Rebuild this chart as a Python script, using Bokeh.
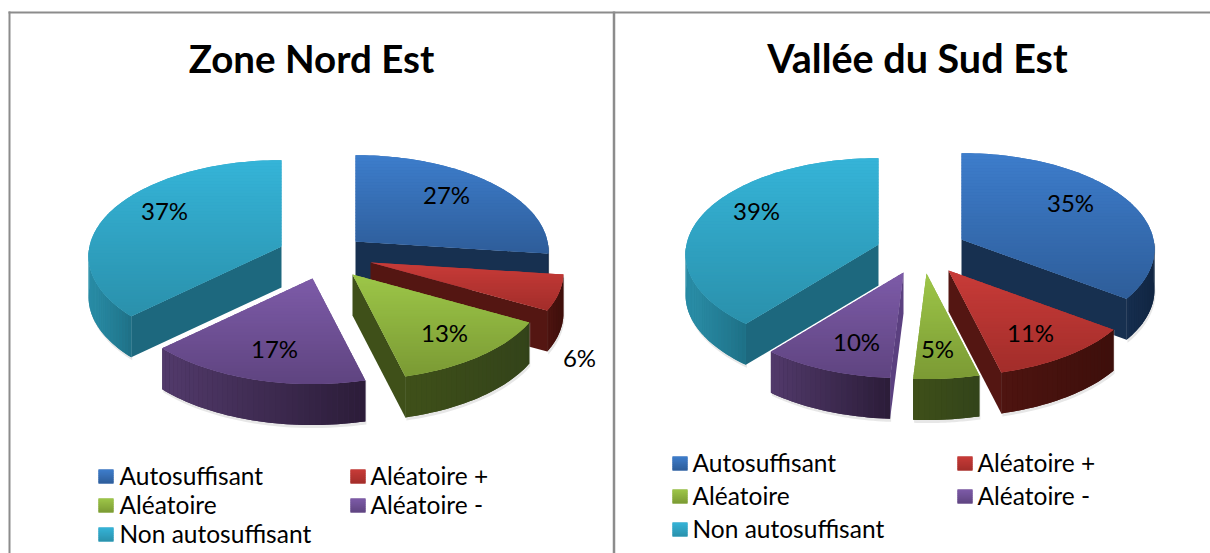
import math
from bokeh.plotting import figure
from bokeh.models import Range1d
from bokeh.core.properties import value
from bokeh.embed import file_html
from bokeh.resources import INLINE

categories = ["Autosuffisant", "Aléatoire +", "Aléatoire", "Aléatoire -", "Non autosuffisant"]
nord_est = [27, 6, 13, 17, 37]
sud_est = [35, 11, 5, 10, 39]
titles = ["Zone Nord Est", "Vallée du Sud Est"]

# styles
top_light = ["#3d7dcc", "#c83b38", "#9dc648", "#7d5ba8", "#35b4d8"]
top_dark = ["#2e5d99", "#a22d2a", "#7b9a34", "#5f4480", "#2a90ab"]
wall = ["#173050", "#541612", "#3f5019", "#5b4080", "#1d687e"]
rim_light = ["#162e4f", "#4e1410", "#3f5019", "#523a6b", "#2b90aa"]
rim_dark = ["#112642", "#3d0f0b", "#33431a", "#2b1c38", "#1e7086"]
DRAW_ORDER = [4, 0, 1, 3, 2]

# layout (reference pixels)
R, RATIO_R, PERSP, DEPTH = 192.0, 95.0, 0.10, 41.0
pies = [
    dict(values=nord_est, c=(330, 255),
         off=[(25, -14), (40, 7), (22, 19), (-18, 23), (-49, -9)],
         lab=[(446, 194), (579, 357), (444, 332), (274, 348), (164, 210)],
         title_x=311, title_size="38.5px", leg_sw=(98, 350), leg_tx=(119, 370), leg_y=(476, 505, 534)),
    dict(values=sud_est, c=(925, 255),
         off=[(36, -16), (23, 15), (1, 18), (-22, 17), (-47, -11)],
         lab=[(1070, 202), (1030, 332), (937, 348), (856, 341), (756, 210)],
         title_x=917, title_size="39.5px", leg_sw=(672, 957), leg_tx=(692, 977), leg_y=(463, 496, 529)),
]


def hex2rgb(h):
    return tuple(int(h[i:i + 2], 16) for i in (1, 3, 5))


def mix(a, b, t):
    t = max(0.0, min(1.0, t))
    ra, rb = hex2rgb(a), hex2rgb(b)
    return "#%02x%02x%02x" % tuple(round(x + (y - x) * t) for x, y in zip(ra, rb))


def proj(ax, ay, deg):
    th = math.radians(deg)
    depth = -math.cos(th)
    s = 1.0 / (1.0 - PERSP * depth)
    return ax + R * math.sin(th) * s, ay + RATIO_R * depth * s


def clip_band(poly, y0, y1):
    def clip(pts, inside, ylim):
        out = []
        for i, p in enumerate(pts):
            q = pts[(i + 1) % len(pts)]
            if inside(p):
                out.append(p)
            if inside(p) != inside(q):
                t = (ylim - p[1]) / (q[1] - p[1])
                out.append((p[0] + (q[0] - p[0]) * t, ylim))
        return out
    pts = clip(poly, lambda p: p[1] >= y0, y0)
    if pts:
        pts = clip(pts, lambda p: p[1] <= y1, y1)
    return pts


xs, ys, fills, alphas = [], [], [], []


def add(poly, color, alpha=1.0):
    xs.append([p[0] for p in poly])
    ys.append([p[1] for p in poly])
    fills.append(color)
    alphas.append(alpha)


def gradient_box(poly, light, dark, step=3.0):
    add(poly, mix(light, dark, 0.5))
    y_min = min(p[1] for p in poly)
    y_max = max(p[1] for p in poly)
    y = y_min
    while y < y_max:
        band = clip_band(poly, y, y + step + 0.6)
        if len(band) >= 3:
            add(band, mix(light, dark, (y + step / 2 - y_min) / (y_max - y_min)))
        y += step


def draw_pie(cfg):
    vals = cfg["values"]
    total = sum(vals)
    spans, a = [], 0.0
    for v in vals:
        spans.append((a, a + 360.0 * v / total))
        a += 360.0 * v / total
    for i in DRAW_ORDER:
        t1, t2 = spans[i]
        ax = cfg["c"][0] + cfg["off"][i][0]
        ay = cfg["c"][1] + cfg["off"][i][1]
        n = max(2, int((t2 - t1) / 1.5))
        arc = [proj(ax, ay, t1 + (t2 - t1) * k / n) for k in range(n + 1)]
        lo = max(t1, 90.0)
        hi = min(t2, 270.0)
        if hi > lo:
            sa = [proj(ax, ay, lo + (hi - lo) * k / 30) for k in range(31)]
            sh = [(x + 1, y + DEPTH + 3) for x, y in sa] + [(x + 1, y) for x, y in reversed(sa)]
            add(sh, "#c4c4c4", 0.4)
        if math.sin(math.radians(t1)) < 0:
            px, py = proj(ax, ay, t1)
            add([(ax, ay), (px, py), (px, py + DEPTH), (ax, ay + DEPTH)], wall[i])
        if math.sin(math.radians(t2)) > 0:
            px, py = proj(ax, ay, t2)
            add([(ax, ay), (px, py), (px, py + DEPTH), (ax, ay + DEPTH)], wall[i])
        if hi > lo:
            m = max(2, int((hi - lo) / 1.5))
            pts = [proj(ax, ay, lo + (hi - lo) * k / m) for k in range(m + 1)]
            x_min = min(q[0] for q in pts)
            x_max = max(q[0] for q in pts)
            add(pts + [(q[0], q[1] + DEPTH) for q in reversed(pts)],
                mix(rim_light[i], rim_dark[i], 0.5))
            for k in range(m):
                p_, q_ = pts[k], pts[k + 1]
                tt = ((p_[0] + q_[0]) / 2 - x_min) / max(1.0, x_max - x_min)
                add([p_, q_, (q_[0], q_[1] + DEPTH), (p_[0], p_[1] + DEPTH)],
                    mix(rim_light[i], rim_dark[i], tt))
        gradient_box([(ax, ay)] + arc, top_light[i], top_dark[i])


W, H = 1210, 553
p = figure(width=W, height=H, output_backend="svg", toolbar_location=None,
           x_range=Range1d(0, W), y_range=Range1d(H, 0),
           min_border=0, outline_line_color=None)
p.axis.visible = False
p.grid.visible = False

for cfg in pies:
    draw_pie(cfg)
    for k in range(5):
        col = k % 2
        row = k // 2
        sx = cfg["leg_sw"][col]
        sy = cfg["leg_y"][row]
        gradient_box([(sx, sy - 7), (sx + 15, sy - 7), (sx + 15, sy + 7), (sx, sy + 7)],
                     top_light[k], top_dark[k], step=2.0)

p.patches(xs, ys, fill_color=fills, line_color=None, fill_alpha=alphas)

# frame
GREY = "#8c8c8c"
p.line([9, 9], [11, 553], line_color=GREY, line_width=2)
p.line([613.5, 613.5], [11, 553], line_color=GREY, line_width=2.5)
p.line([8, 1210], [12, 12], line_color=GREY, line_width=2)

FONT = value("Lato")
for cfg, title in zip(pies, titles):
    p.text([cfg["title_x"]], [57], text=[title], text_font=FONT, text_font_size=cfg["title_size"],
           text_font_style="bold", text_align="center", text_baseline="middle", text_color="#000000")
    p.text([c[0] for c in cfg["lab"]], [c[1] for c in cfg["lab"]],
           text=[f"{v}%" for v in cfg["values"]], text_font=FONT, text_font_size="24px",
           text_align="center", text_baseline="middle", text_color="#000000")
    p.text([cfg["leg_tx"][k % 2] for k in range(5)],
           [cfg["leg_y"][k // 2] - 1.5 for k in range(5)],
           text=categories, text_font=FONT, text_font_size="24.5px",
           text_align="left", text_baseline="middle", text_color="#000000")

open("out.html", "w").write(file_html(p, INLINE))
